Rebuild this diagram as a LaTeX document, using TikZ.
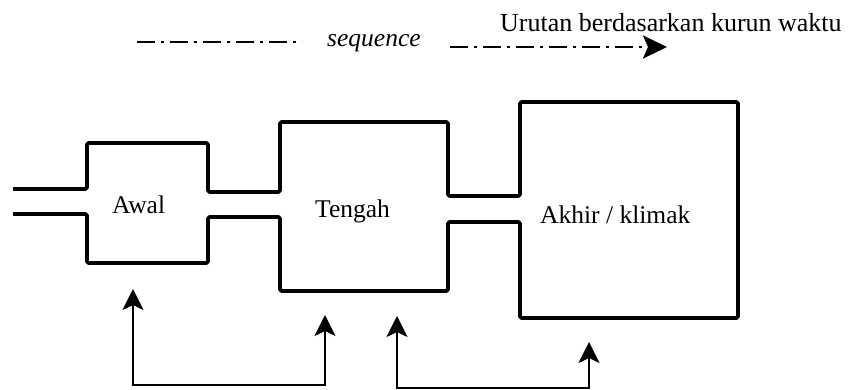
\documentclass[tikz,border=0pt]{standalone}
\usepackage{fontspec}
\setmainfont{Liberation Serif}
\usepackage{tikz}
\usetikzlibrary{arrows.meta}

\begin{document}
\begin{tikzpicture}[x=1pt, y=-1pt,
  lbl/.style={inner sep=0pt, font=\fontsize{25.5}{30}\selectfont},
  chan/.style={line width=3.8pt, rounded corners=1.5pt, line join=round},
  flow/.style={line width=2pt, {Stealth[length=21pt,width=21pt,inset=5pt]}-{Stealth[length=21pt,width=21pt,inset=5pt]}},
  seq/.style={line width=2.8pt, dash pattern=on 18pt off 6pt on 3pt off 6pt}]
  \useasboundingbox (0,0) rectangle (848,390);
  % top line: sequence in time
  \coordinate (s0) at (137,42); \coordinate (s1) at (302,42);
  \coordinate (t0) at (450,47); \coordinate (t1) at (667,47);
  \node[lbl, anchor=base west, font=\fontsize{25.5}{30}\selectfont\itshape] (seqtxt) at (327,47) {sequence};
  \node[lbl, anchor=base west, font=\fontsize{26}{30}\selectfont] (urut) at (500,32) {Urutan berdasarkan kurun waktu};
  \draw[seq] (s0) -- (s1);
  \draw[seq, -{Stealth[length=24pt,width=23pt,inset=5pt]}] (t0) -- (t1);
  % the three parts, one channel outline
  \draw[chan] (13,189) -- (87,189) -- (87,143) -- (208,143) -- (208,192) -- (280,192)
    -- (280,122) -- (448,122) -- (448,196) -- (520,196) -- (520,102) -- (738,102)
    -- (738,318) -- (520,318) -- (520,222) -- (448,222) -- (448,291) -- (280,291)
    -- (280,217) -- (208,217) -- (208,263) -- (87,263) -- (87,214) -- (13,214);
  \node[lbl, anchor=base west] (awal) at (112,213) {Awal};
  \node[lbl, anchor=base west] (tengah) at (315,217) {Tengah};
  \node[lbl, anchor=base west] (akhir) at (540,223) {Akhir / klimak};
  % links between parts
  \coordinate (a1) at (133,289); \coordinate (a2) at (325,315); \coordinate (b1) at (133,385);
  \coordinate (c1) at (397,316); \coordinate (c2) at (589,342); \coordinate (d1) at (397,388);
  \draw[flow] (a1) -- (b1) -| (a2);
  \draw[flow] (c1) -- (d1) -| (c2);
\end{tikzpicture}
\end{document}
